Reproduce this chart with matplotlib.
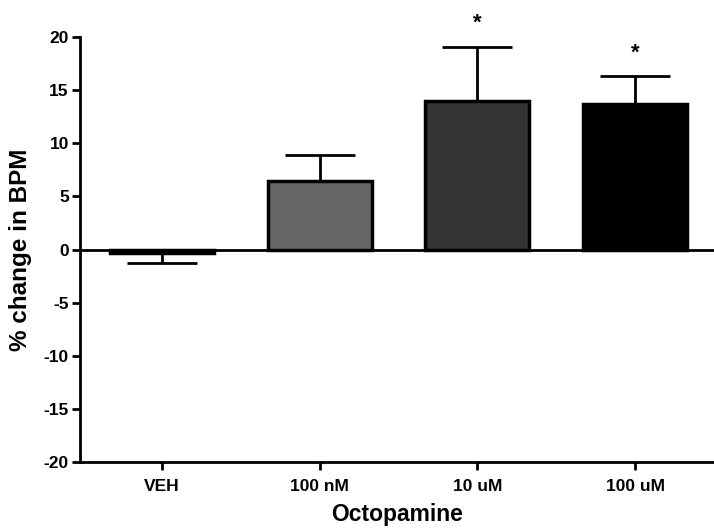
import numpy as np
import matplotlib.pyplot as plt

plt.rcParams['font.family'] = ['Liberation Sans', 'DejaVu Sans']
plt.rcParams['font.weight'] = 'bold'
plt.rcParams['axes.unicode_minus'] = False

# données
categories = ["VEH", "100 nM", "10 uM", "100 uM"]
means = [-0.3, 6.5, 14.0, 13.7]
sem = [1.0, 2.4, 5.1, 2.6]
colors = ["black", "#666666", "#333333", "black"]
signif = ["", "", "*", "*"]

fig = plt.figure(figsize=(7.14, 5.31), dpi=100)
ax = fig.add_axes([0.112, 0.130, 0.888, 0.800])

x = np.arange(len(categories))
ax.bar(x, means, width=0.66, color=colors, edgecolor="black", linewidth=2.5, zorder=2)

# barres d'erreur d'un seul côté (vers l'extérieur de la barre)
for xi, m, e in zip(x, means, sem):
    lower = [e] if m < 0 else [0]
    upper = [0] if m < 0 else [e]
    ax.errorbar(xi, m, yerr=[lower, upper], fmt="none", ecolor="black",
                elinewidth=2, capsize=25, capthick=2, zorder=1)

for xi, m, e, s in zip(x, means, sem, signif):
    if s:
        ax.text(xi, m + e + 1.2, s, ha="center", va="bottom", fontsize=16, fontweight="bold")

ax.axhline(0, color="black", linewidth=2, zorder=3)

ax.set_xlim(-0.52, 3.5)
ax.set_ylim(-20, 20)
ax.set_yticks(np.arange(-20, 21, 5))
ax.set_xticks(x)
ax.set_xticklabels(categories)
ax.tick_params(axis="both", direction="out", length=6, width=2, labelsize=12.5)
ax.tick_params(axis="x", pad=6)
ax.tick_params(axis="y", pad=2)

for side in ["top", "right"]:
    ax.spines[side].set_visible(False)
for side in ["left", "bottom"]:
    ax.spines[side].set_linewidth(2)

ax.set_ylabel("% change in BPM", fontsize=17.5, fontweight="bold", labelpad=8)
ax.set_xlabel("Octopamine", fontsize=16.5, fontweight="bold", labelpad=7)

fig.savefig("out.png", dpi=100)
